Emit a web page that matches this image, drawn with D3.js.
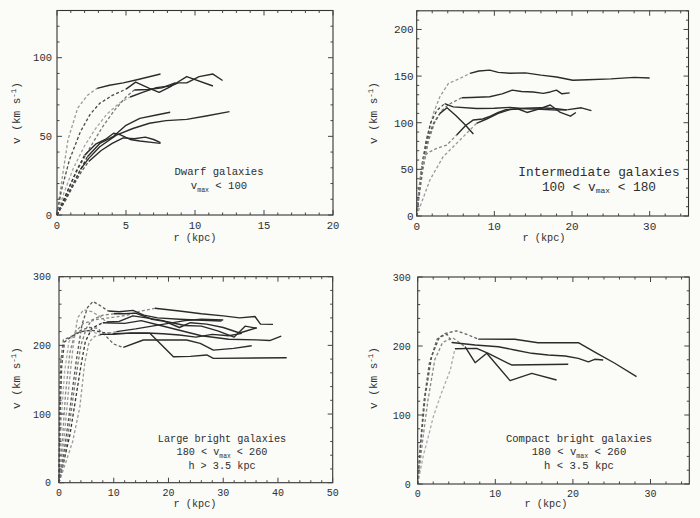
<!DOCTYPE html>
<html><head><meta charset="utf-8">
<script src="https://cdn.jsdelivr.net/npm/d3@7/dist/d3.min.js"></script>
<style>
body{margin:0;background:#fbfbf8}
svg{display:block}
text{font-family:"Liberation Mono","DejaVu Sans Mono",monospace;fill:#2e2e2e}
</style></head>
<body><svg id="c" width="700" height="518"></svg>
<script>
// ---------------- DATA ----------------
// Panel 1: dwarf galaxies
const dwarfXDomain=[0,20], dwarfYDomain=[0,130];
const dwarfXTicks=[0,5,10,15,20];
const dwarfYTicks=[0,50,100];
const dwarfDashed=[
 [[0,0],[0.15,10],[0.35,22],[0.8,48],[1.5,68],[2.2,76],[2.9,80.5]],
 [[0,0],[0.3,15],[0.9,35],[1.7,53],[2.4,64],[3.1,71],[4,76],[5,80]],
 [[0,0],[0.5,14],[1.2,30],[2,44],[2.8,55],[3.6,64],[4.5,71],[5.3,75]],
 [[0,0],[0.7,14],[1.5,29],[2.4,43],[3.3,56],[4.2,67],[5,75],[5.6,79.5]],
 [[0,0],[0.4,7],[1,17],[1.6,27],[2.2,37]],
 [[0,0],[0.5,8],[1.1,18],[1.7,29]],
 [[0,0],[0.3,6],[0.8,16],[1.4,28],[2,38]],
 [[0,0],[0.6,9],[1.2,19],[1.8,28],[2.3,34]]
];
const dwarfSolid=[
 [[2.9,80.5],[3.8,82.5],[4.8,84],[5.8,86],[7.5,89.6]],
 [[5,80],[5.7,84.5],[6.7,80.5],[7.4,78],[8.3,82],[9.4,88],[11.3,82]],
 [[5.3,75],[6.2,78],[7.2,81],[8.2,82],[8.8,84],[9.4,84],[10.3,88],[11.3,89.6],[12,85.5]],
 [[5.6,79.5],[6.6,79.8],[7.6,80.8],[8.6,84.2]],
 [[2.2,37],[3.1,45.5],[4.1,50],[5,57],[6,61.4],[7.2,63.6],[8.2,65.3]],
 [[1.7,29],[2.3,36],[3.1,43.4],[4.3,50.8],[5.5,55],[6.7,58.3],[7.9,60],[9.4,60.8],[10.8,62.9],[12.5,65.7]],
 [[2,38],[2.8,45],[3.5,48],[4.1,52],[4.6,51],[5.3,48],[6,47],[7,46],[7.5,45.5]],
 [[2.3,34],[3.2,41],[4,45.5],[4.8,49],[5.6,48.5],[6.4,49.5],[7,48],[7.5,46]]
];

// Panel 2: intermediate galaxies
const interXDomain=[0,35], interYDomain=[0,220];
const interXTicks=[0,10,20,30];
const interYTicks=[0,50,100,150,200];
const interDashed=[
 [[0,0],[0.2,17],[0.64,49],[1.29,81],[2.14,110],[3,128],[4.07,142],[5.57,147.5],[6.86,152.9]],
 [[0,0],[0.3,20],[0.8,50],[1.5,80],[2.3,100],[3.2,113],[4.2,120],[5.8,126.7]],
 [[0,0],[0.3,25],[0.7,55],[1.2,80],[1.8,100],[2.6,113],[3.6,120.5]],
 [[0,0],[0.3,30],[0.8,60],[1.5,85],[2.2,100],[3,110]],
 [[0,0],[0.2,20],[0.5,45],[0.85,63.5],[1.5,68],[2.57,72.5],[3.86,76],[5.15,86.8]],
 [[0,0],[0.43,10],[1.7,38.6],[3.4,63.5],[5.57,81.4],[7.7,99.3]]
];
const interSolid=[
 [[6.86,152.9],[8,155.5],[9.4,156.4],[10.5,154],[12,153],[14,153.5],[16,151],[18,149],[20.1,145.5],[22,146],[25,147],[28,148.6],[30,148]],
 [[5.8,126.7],[7,127],[9.4,127.9],[11,131],[12.3,135],[13.5,133.5],[15,133],[16.3,131.5],[17.2,133],[18,135],[18.7,131],[19.7,132]],
 [[3.6,120.5],[4.7,117],[7.7,115.3],[10,115.5],[12,116.5],[14,115],[16,114.5],[18,113.5],[19.5,114],[21.2,116],[22.5,113]],
 [[3,110],[3.9,116],[5,108],[6.2,98],[7.3,88]],
 [[5.15,86.8],[6.3,97],[7.3,103],[8.5,104],[9.5,107],[10.5,111],[11.5,114],[13,115],[14.2,111],[15.5,114],[17.2,119],[18.5,111],[19.8,107],[20.5,111]],
 [[7.7,99.3],[9,104],[10.5,110],[12,114],[14,115.5],[16,116],[18,115],[19.3,113.6]]
];

// Panel 3: large bright galaxies
const largeXDomain=[0,50], largeYDomain=[0,300];
const largeXTicks=[0,10,20,30,40,50];
const largeYTicks=[0,100,200,300];
const largeDashed=[
 [[0,0],[0.6,60],[1.2,130],[2,190],[3,220],[4.5,232],[7,238],[10,241],[12.5,244],[15,250],[17.5,254]],
 [[0,0],[1.2,60],[2.2,120],[3.2,180],[4.2,230],[5.2,255],[6.2,264],[7.5,258],[9,250]],
 [[0,0],[1,70],[1.8,140],[2.6,200],[3.4,240],[4.5,252],[6,249],[7.5,242],[8.7,234]],
 [[0,0],[2,70],[3,120],[4,170],[4.8,205],[6,225],[8,233]],
 [[0,0],[0.4,90],[1,160],[1.8,205],[3,218],[4.5,222],[6,220],[7.5,216]],
 [[0,0],[0.2,100],[0.5,170],[1,205],[2.5,214],[4,220],[6,222],[8,219],[9.9,217.5]],
 [[0,0],[0.1,110],[0.3,175],[0.8,208],[2.5,214],[4,222],[5.5,226],[7,225],[8.5,214],[10,202],[11.75,197]],
 [[0,0],[2.5,60],[3.8,110],[4.7,174],[5.5,205],[6.5,213],[8,216],[10.5,220]],
 [[0,0],[1.5,60],[2.5,120],[3.4,170],[4,200],[5,225],[6,237],[8,244],[10,246]]
];
const largeSolid=[
 [[17.5,254],[22,250],[26,246],[30,243],[33,240],[35.8,242],[36.8,231],[39.1,230.5]],
 [[9,250],[11,249],[13.5,251],[15.5,244],[18,240],[22,238],[25,237],[29.7,235.4]],
 [[8.7,234],[11,235],[13.5,243],[16,240],[19,236],[22,226],[24,233],[27,231],[30,226],[33,218],[36.1,225.6]],
 [[8,233],[12,232],[15,236],[18,230],[22,222],[26,214],[31,209],[36,208],[38.5,207],[40.6,213.6]],
 [[7.5,216],[10,216],[13,218],[16,218],[19,217],[22,215],[25,212],[28,216],[31,214],[33.4,217.5]],
 [[9.9,217.5],[16.6,217.5],[20.9,183.5],[24,184],[27,186],[28.2,181],[41.6,182]],
 [[11.75,197],[15.4,207.8],[23.3,207.8],[25.8,203],[28.2,193],[31.9,195.6],[35.2,199.5]],
 [[10.5,220],[14,224],[17,228],[20,232],[23,236],[26,238],[30,237]],
 [[10,246],[12,246],[14,247],[17,238],[20,234],[23,229],[26,228],[29,221],[32,212],[34,228],[36.1,225]]
];

// Panel 4: compact bright galaxies
const compXDomain=[0,35], compYDomain=[0,300];
const compXTicks=[0,10,20,30];
const compYTicks=[0,100,200,300];
const compDashed=[
 [[0,0],[0.3,50],[0.8,120],[1.5,175],[2.5,210],[3.5,218],[5,222],[6.5,216],[7.8,210]],
 [[0,0],[0.4,60],[1,130],[1.8,185],[2.8,213],[3.8,217],[4.4,205]],
 [[0,0],[0.7,40],[1.4,70],[2,97],[3,130],[4.2,165],[4.8,196]],
 [[0,0],[0.6,60],[1.3,120],[2.2,180],[3.2,205],[4.5,212],[6.1,199]]
];
const compSolid=[
 [[7.8,210],[12.5,209.7],[15.5,204.8],[20.7,204.8],[23,190],[25.4,175],[28.2,155.5]],
 [[4.4,205],[7.4,201.4],[10.4,199],[12.5,194.2],[14.7,189.4],[16.8,187],[19,185.5],[20.7,182],[22,177],[22.8,180.7],[23.9,179.7]],
 [[4.8,196],[7.6,196.6],[9.1,189.4],[12.1,172.5],[19.4,173.5]],
 [[6.1,199],[7.4,175.8],[8.9,189.4],[11.9,149.8],[14.7,160.4],[17.9,150.7]]
];

// labels
const dwarfLabel=[["Dwarf galaxies"],["v","max"," < 100"]];
const interLabel=[["Intermediate galaxies"],["100 < v","max"," < 180"]];
const largeLabel=[["Large bright galaxies"],["180 < v","max"," < 260"],["h > 3.5 kpc"]];
const compLabel=[["Compact bright galaxies"],["180 < v","max"," < 260"],["h < 3.5 kpc"]];
const xTitle="r (kpc)";

// ---------------- LAYOUT ----------------
const panels=[
 {xd:dwarfXDomain,yd:dwarfYDomain,xt:dwarfXTicks,yt:dwarfYTicks,xm:1,ym:10,dashed:dwarfDashed,solid:dwarfSolid,label:dwarfLabel,
  l:57,r:333,t:10.5,b:215,tickFs:10.5,tickDy:14,yGap:5,labFs:10.6,labX:219,labY:175,labDy:14,xtX:195,xtY:241,ytX:20,ytY:113,
  tones:["#9a9a9a","#4a4a4a","#a5a5a5","#777","#333","#444","#333","#555"]},
 {xd:interXDomain,yd:interYDomain,xt:interXTicks,yt:interYTicks,xm:2,ym:10,dashed:interDashed,solid:interSolid,label:interLabel,
  l:416.7,r:688.5,t:10.8,b:216,tickFs:11,tickDy:13.5,yGap:3,labFs:12.8,labX:599,labY:176,labDy:14.5,xtX:544,xtY:241,ytX:377,ytY:113,
  tones:["#9a9a9a","#777","#444","#555","#888","#999"]},
 {xd:largeXDomain,yd:largeYDomain,xt:largeXTicks,yt:largeYTicks,xm:2,ym:20,dashed:largeDashed,solid:largeSolid,label:largeLabel,
  l:59,r:332.7,t:276.7,b:482.7,tickFs:10,tickDy:13.5,yGap:8,labFs:10.2,labX:222,labY:441.5,labDy:13.5,xtX:195,xtY:507,ytX:20,ytY:378,
  tones:["#888","#555","#999","#333","#aaa","#444","#666","#999","#777"]},
 {xd:compXDomain,yd:compYDomain,xt:compXTicks,yt:compYTicks,xm:2,ym:20,dashed:compDashed,solid:compSolid,label:compLabel,
  l:417.7,r:689.3,t:277,b:484,tickFs:10,tickDy:13,yGap:7,labFs:10.6,labX:579,labY:441.5,labDy:13.5,xtX:546,xtY:507,ytX:377,ytY:378,
  tones:["#666","#555","#aaa","#888"]}
];

const svg=d3.select("#c");
svg.append("rect").attr("width",700).attr("height",518).attr("fill","#fbfbf8");

panels.forEach(p=>{
  const x=d3.scaleLinear().domain(p.xd).range([p.l,p.r]);
  const y=d3.scaleLinear().domain(p.yd).range([p.b,p.t]);
  const g=svg.append("g");
  const line=d3.line().x(d=>x(d[0])).y(d=>y(d[1]));

  // curves
  p.dashed.forEach((c,i)=>{
    g.append("path").attr("d",line(c)).attr("fill","none")
     .attr("stroke",p.tones[i%p.tones.length]).attr("stroke-width",1.3)
     .attr("stroke-dasharray","3,2.2");
  });
  p.solid.forEach(c=>{
    g.append("path").attr("d",line(c)).attr("fill","none")
     .attr("stroke","#2b2b2b").attr("stroke-width",1.4).attr("stroke-linejoin","round");
  });

  // frame
  g.append("rect").attr("x",p.l).attr("y",p.t).attr("width",p.r-p.l).attr("height",p.b-p.t)
   .attr("fill","none").attr("stroke","#333").attr("stroke-width",1.1);

  // ticks (inward, all sides)
  const xMinor=d3.range(p.xd[0],p.xd[1]+1e-9,p.xm);
  const yMinor=d3.range(p.yd[0],p.yd[1]+1e-9,p.ym);
  const tk=g.append("g").attr("stroke","#444").attr("stroke-width",1);
  xMinor.forEach(v=>{
    const L=p.xt.includes(v)?5:2.5, X=x(v);
    tk.append("line").attr("x1",X).attr("x2",X).attr("y1",p.b).attr("y2",p.b-L);
    tk.append("line").attr("x1",X).attr("x2",X).attr("y1",p.t).attr("y2",p.t+L);
  });
  yMinor.forEach(v=>{
    const L=p.yt.includes(v)?5:2.5, Y=y(v);
    tk.append("line").attr("y1",Y).attr("y2",Y).attr("x1",p.l).attr("x2",p.l+L);
    tk.append("line").attr("y1",Y).attr("y2",Y).attr("x1",p.r).attr("x2",p.r-L);
  });

  // tick labels
  p.xt.forEach(v=>{
    g.append("text").attr("x",x(v)).attr("y",p.b+p.tickDy).attr("text-anchor","middle")
     .attr("font-size",p.tickFs).text(v);
  });
  p.yt.forEach(v=>{
    g.append("text").attr("x",p.l-p.yGap).attr("y",y(v)).attr("dy","0.36em").attr("text-anchor","end")
     .attr("font-size",p.tickFs).text(v);
  });

  // axis titles
  g.append("text").attr("x",p.xtX).attr("y",p.xtY).attr("text-anchor","middle")
   .attr("font-size",10.2).text(xTitle);
  const yt=g.append("text").attr("transform",`translate(${p.ytX},${p.ytY}) rotate(-90)`)
   .attr("text-anchor","middle").attr("font-size",11);
  yt.append("tspan").text("v (km s");
  yt.append("tspan").attr("dy",-4).attr("font-size",7.5).text("-1");
  yt.append("tspan").attr("dy",4).text(")");

  // annotation
  p.label.forEach((ln,i)=>{
    const t=g.append("text").attr("x",p.labX).attr("y",p.labY+i*p.labDy)
      .attr("text-anchor","middle").attr("font-size",p.labFs);
    if(ln.length===1){ t.text(ln[0]); }
    else {
      t.append("tspan").text(ln[0]);
      t.append("tspan").attr("dy",2.5).attr("font-size",p.labFs*0.62).text(ln[1]);
      t.append("tspan").attr("dy",-2.5).text(ln[2]);
    }
  });
});
</script>
</body></html>
